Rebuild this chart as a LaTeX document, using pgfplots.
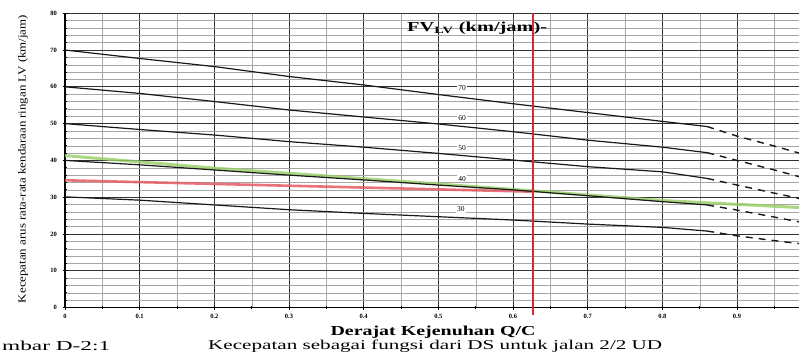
\documentclass[border=0pt]{standalone}
\usepackage{pgfplots}
\pgfplotsset{compat=1.18}
\usepackage{pgfplotstable}
\usepackage{fontspec}
\setmainfont{Liberation Serif}
\usepackage{graphicx}

\definecolor{gline}{RGB}{150,205,100}
\definecolor{rline}{RGB}{228,90,100}
\definecolor{rvert}{RGB}{215,40,55}

\pgfplotstableread{
x y
0 70
0.1 67.7
0.2 65.5
0.3 62.8
0.4 60.5
0.5 57.9
0.6 55.4
0.7 53.0
0.8 50.6
0.86 49.2
}\fvA
\pgfplotstableread{
x y
0.86 49.2
0.9 46.6
0.95 43.9
0.983 42.0
}\fvAd
\pgfplotstableread{
x y
0 60
0.1 58.2
0.2 56.0
0.3 53.7
0.4 51.8
0.5 49.9
0.6 47.8
0.7 45.5
0.8 43.6
0.86 42.1
}\fvB
\pgfplotstableread{
x y
0.86 42.1
0.9 40.0
0.95 37.4
0.983 35.6
}\fvBd
\pgfplotstableread{
x y
0 50
0.1 48.4
0.2 46.9
0.3 45.1
0.4 43.6
0.5 41.9
0.6 40.1
0.7 38.3
0.8 36.9
0.86 35.1
}\fvC
\pgfplotstableread{
x y
0.86 35.1
0.9 33.3
0.95 31.1
0.983 29.7
}\fvCd
\pgfplotstableread{
x y
0 40
0.1 38.8
0.2 37.4
0.3 36.0
0.4 34.7
0.5 33.3
0.6 32.0
0.7 30.4
0.8 28.8
0.86 27.9
}\fvD
\pgfplotstableread{
x y
0.86 27.9
0.9 26.5
0.95 24.6
0.983 23.3
}\fvDd
\pgfplotstableread{
x y
0 30.1
0.1 29.2
0.2 27.9
0.3 26.6
0.4 25.6
0.5 24.7
0.6 23.8
0.7 22.7
0.8 21.8
0.86 20.8
}\fvE
\pgfplotstableread{
x y
0.86 20.8
0.9 19.5
0.95 18.2
0.983 17.4
}\fvEd
\pgfplotstableread{
x y
0 41.3
0.2 37.9
0.3 36.5
0.636 31.6
0.8 29.1
0.983 27.2
}\green
\pgfplotstableread{
x y
0 34.6
0.627 31.5
}\redh
\pgfplotstableread{
x y
0.627 -2
0.627 80
}\redv

\begin{document}
\begin{tikzpicture}
\begin{axis}[
  at={(0,0)}, anchor=south west,
  scale only axis, width=734pt, height=294.4pt,
  xmin=0, xmax=0.983, ymin=0, ymax=80,
  clip=false,
  axis lines=left,
  axis line style={-, line width=1.1pt, black},
  xtick={0,0.1,0.2,0.3,0.4,0.5,0.6,0.7,0.8,0.9},
  xticklabels={0,0.1,0.2,0.3,0.4,0.5,0.6,0.7,0.8,0.9},
  minor xtick={0.05,0.15,0.25,0.35,0.45,0.55,0.65,0.75,0.85,0.95},
  ytick={0,10,20,30,40,50,60,70,80},
  minor y tick num=4,
  tick align=center,
  major tick length=5pt, minor tick length=3pt,
  tick style={black, line width=0.8pt},
  grid=both,
  major grid style={black!80, line width=0.65pt},
  minor grid style={black!35, line width=0.35pt},
  /pgf/number format/assume math mode=true,
  xticklabel style={font=\fontsize{6.5}{7}\selectfont\bfseries, yshift=-1pt},
  yticklabel style={font=\fontsize{6.5}{7}\selectfont\bfseries, xshift=-2pt},
]
\addplot[gline, line width=3pt, opacity=0.8] table {\green};
\addplot[rline, line width=2.6pt, opacity=0.85] table {\redh};
\addplot[black!90, line width=1.2pt] table {\fvA};
\addplot[black!90, line width=1.2pt] table {\fvB};
\addplot[black!90, line width=1.2pt] table {\fvC};
\addplot[black!90, line width=1.2pt] table {\fvD};
\addplot[black!90, line width=1.2pt] table {\fvE};
\addplot[black!90, line width=1.4pt, dash pattern=on 7pt off 6pt] table {\fvAd};
\addplot[black!90, line width=1.4pt, dash pattern=on 7pt off 6pt] table {\fvBd};
\addplot[black!90, line width=1.4pt, dash pattern=on 7pt off 6pt] table {\fvCd};
\addplot[black!90, line width=1.4pt, dash pattern=on 7pt off 6pt] table {\fvDd};
\addplot[black!90, line width=1.4pt, dash pattern=on 7pt off 6pt] table {\fvEd};
\node[fill=white, inner sep=1pt, font=\fontsize{7.5}{8}\selectfont] at (axis cs:0.532,59.7) {70};
\node[fill=white, inner sep=1pt, font=\fontsize{7.5}{8}\selectfont] at (axis cs:0.532,51.5) {60};
\node[fill=white, inner sep=1pt, font=\fontsize{7.5}{8}\selectfont] at (axis cs:0.532,43.4) {50};
\node[fill=white, inner sep=1pt, font=\fontsize{7.5}{8}\selectfont] at (axis cs:0.532,35.0) {40};
\node[fill=white, inner sep=1pt, font=\fontsize{7.5}{8}\selectfont] at (axis cs:0.530,26.7) {30};
\node[inner sep=0pt] at (axis cs:0.552,76) {\resizebox{140pt}{9.5pt}{\textbf{FV\textsubscript{LV} (km/jam)-}}};
\addplot[rvert, line width=2.6pt] table {\redv};
\end{axis}
\node[rotate=90, inner sep=0pt] at (-42pt,148.6pt) {\resizebox{288pt}{7.5pt}{Kecepatan arus rata-rata kendaraan ringan LV (km/jam)}};
\node[inner sep=0pt] at (368pt,-24.8pt) {\resizebox{205pt}{9.5pt}{\textbf{Derajat Kejenuhan Q/C}}};
\node[inner sep=0pt, anchor=west] at (-63pt,-38.6pt) {\resizebox{108pt}{9.5pt}{mbar D-2:1}};
\node[inner sep=0pt, anchor=west] at (143pt,-38.6pt) {\resizebox{454pt}{9.5pt}{Kecepatan sebagai fungsi dari DS untuk jalan 2/2 UD}};
\pgfresetboundingbox
\useasboundingbox (-65pt,-52.4pt) rectangle (734pt,307.6pt);
\end{tikzpicture}
\end{document}
